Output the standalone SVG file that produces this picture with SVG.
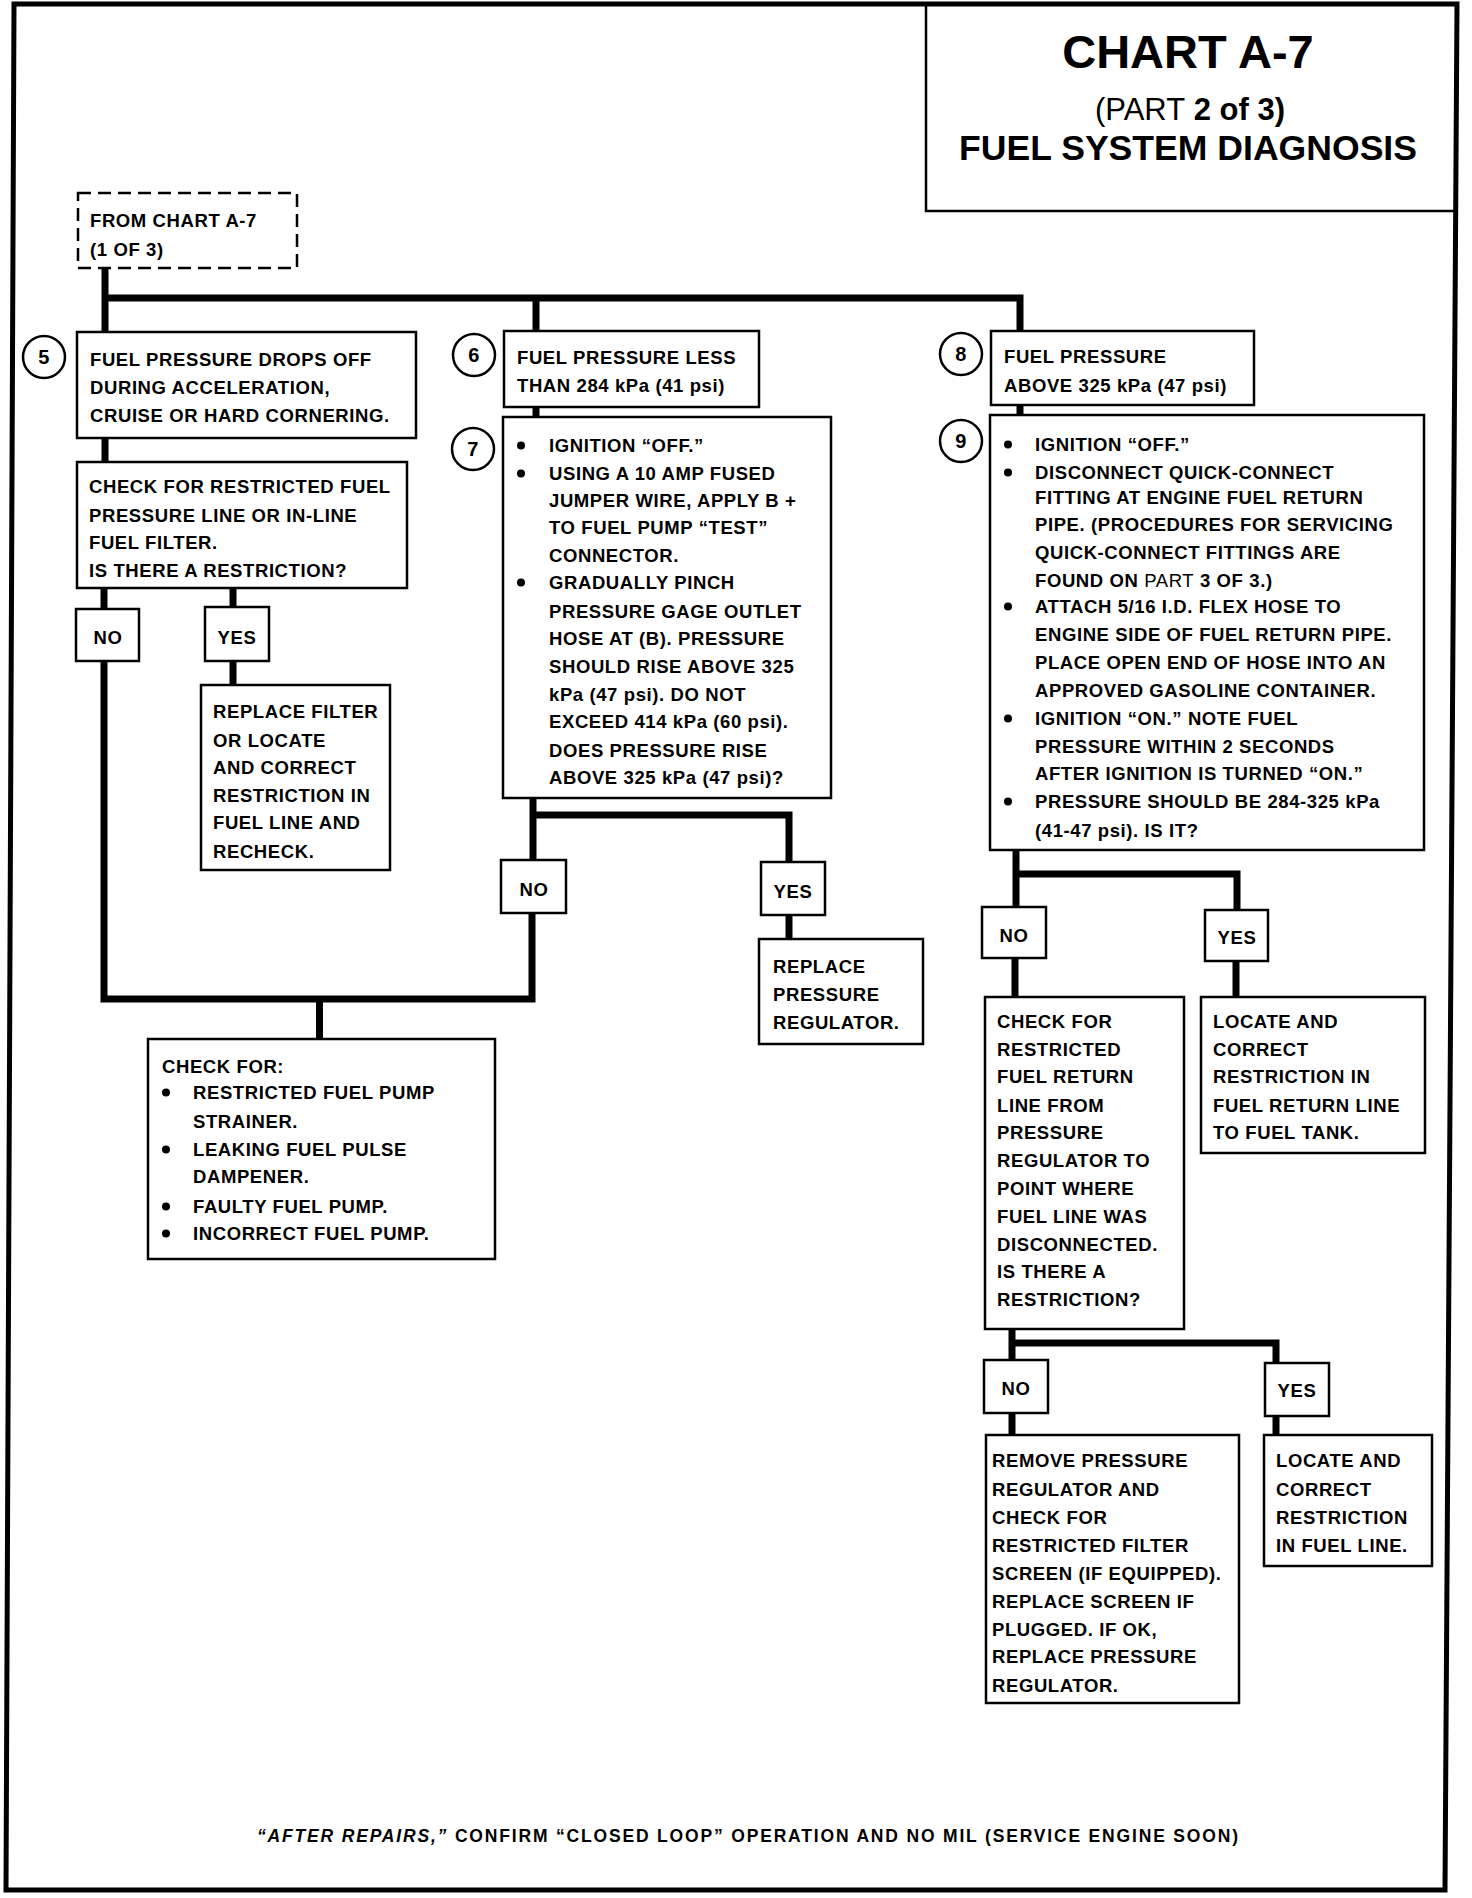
<svg xmlns="http://www.w3.org/2000/svg" width="1472" height="1898" viewBox="0 0 1472 1898" xml:space="preserve">
<style>
.b{fill:#fff;stroke:#000;stroke-width:2.5}
.d{fill:#fff;stroke:#000;stroke-width:2.5;stroke-dasharray:13 7}
.o{fill:none;stroke:#000;stroke-width:5;stroke-linejoin:miter}
.tb{fill:none;stroke:#000;stroke-width:2.5}
.c{fill:none;stroke:#000;stroke-width:7;stroke-linejoin:miter;stroke-linecap:butt}
.t{font-family:"Liberation Sans",Arial,sans-serif;font-weight:bold;font-size:18.5px;letter-spacing:0.6px;fill:#000}
.m{text-anchor:middle}
.k{font-size:20px}
.n{font-weight:normal}
.h1{font-family:"Liberation Sans",Arial,sans-serif;font-weight:bold;font-size:47px;text-anchor:middle}
.h2{font-family:"Liberation Sans",Arial,sans-serif;font-weight:bold;font-size:31px;text-anchor:middle}
.h3{font-family:"Liberation Sans",Arial,sans-serif;font-weight:bold;font-size:35.6px;text-anchor:middle}
.f{font-family:"Liberation Sans",Arial,sans-serif;font-weight:bold;font-size:17.5px;fill:#000}
</style>
<rect width="1472" height="1898" fill="#fff"/>
<path class="o" d="M14,4 L1457,4 L1445,1890 L6,1890 Z"/>
<g id="title">
<path class="tb" d="M926,4 V211 H1456"/>
<text class="h1" x="1188" y="68">CHART A-7</text>
<text class="h2" x="1190" y="120"><tspan class="n">(PART</tspan> 2 of 3)</text>
<text class="h3" x="1188" y="160">FUEL SYSTEM DIAGNOSIS</text>
</g>
<g id="connectors">
<path class="c" d="M105,268 V332"/>
<path class="c" d="M105,298 H1020 V331"/>
<path class="c" d="M536,298 V331"/>
<path class="c" d="M536,407 V417"/>
<path class="c" d="M1020,405 V415"/>
<path class="c" d="M105,438 V462"/>
<path class="c" d="M104,588 V609"/>
<path class="c" d="M233,588 V607"/>
<path class="c" d="M233,661 V685"/>
<path class="c" d="M104,661 V999 H532 V913"/>
<path class="c" d="M319.5,999 V1039"/>
<path class="c" d="M533,798 V860"/>
<path class="c" d="M533,815 H789 V862"/>
<path class="c" d="M789,915 V939"/>
<path class="c" d="M1016,850 V907"/>
<path class="c" d="M1016,874 H1237 V910"/>
<path class="c" d="M1015,958 V997"/>
<path class="c" d="M1236,961 V997"/>
<path class="c" d="M1012,1329 V1360"/>
<path class="c" d="M1012,1343 H1276 V1363"/>
<path class="c" d="M1012,1413 V1435"/>
<path class="c" d="M1276,1416 V1435"/>
</g>
<g id="from">
<rect class="d" x="78" y="193" width="219" height="75"/>
<text class="t" x="90" y="227">FROM CHART A-7</text>
<text class="t" x="90" y="256">(1 OF 3)</text>
</g>
<g id="c5"><circle class="b" cx="44" cy="357" r="21"/><text class="t m k" x="44" y="364">5</text></g>
<g id="c6"><circle class="b" cx="474" cy="355" r="21"/><text class="t m k" x="474" y="362">6</text></g>
<g id="c7"><circle class="b" cx="473" cy="449" r="21"/><text class="t m k" x="473" y="456">7</text></g>
<g id="c8"><circle class="b" cx="961" cy="354" r="21"/><text class="t m k" x="961" y="361">8</text></g>
<g id="c9"><circle class="b" cx="961" cy="441" r="21"/><text class="t m k" x="961" y="448">9</text></g>
<g id="box5">
<rect class="b" x="77" y="332" width="339" height="106"/>
<text class="t" x="90" y="366">FUEL PRESSURE DROPS OFF</text>
<text class="t" x="90" y="394">DURING ACCELERATION,</text>
<text class="t" x="90" y="422">CRUISE OR HARD CORNERING.</text>
</g>
<g id="check1">
<rect class="b" x="77" y="462" width="330" height="126"/>
<text class="t" x="89" y="493">CHECK FOR RESTRICTED FUEL</text>
<text class="t" x="89" y="522">PRESSURE LINE OR IN-LINE</text>
<text class="t" x="89" y="549">FUEL FILTER.</text>
<text class="t" x="89" y="577">IS THERE A RESTRICTION?</text>
</g>
<g id="no1"><rect class="b" x="76" y="609" width="63" height="52"/><text class="t m" x="108" y="644">NO</text></g>
<g id="yes1"><rect class="b" x="205" y="607" width="64" height="54"/><text class="t m" x="237" y="644">YES</text></g>
<g id="replacefilter">
<rect class="b" x="201" y="685" width="189" height="185"/>
<text class="t" x="213" y="718">REPLACE FILTER</text>
<text class="t" x="213" y="747">OR LOCATE</text>
<text class="t" x="213" y="774">AND CORRECT</text>
<text class="t" x="213" y="802">RESTRICTION IN</text>
<text class="t" x="213" y="829">FUEL LINE AND</text>
<text class="t" x="213" y="858">RECHECK.</text>
</g>
<g id="box6">
<rect class="b" x="504" y="331" width="255" height="76"/>
<text class="t" x="517" y="364">FUEL PRESSURE LESS</text>
<text class="t" x="517" y="392">THAN 284 kPa (41 psi)</text>
</g>
<g id="box7">
<rect class="b" x="503" y="417" width="328" height="381"/>
<circle cx="521" cy="445.5" r="4"/>
<circle cx="521" cy="473.5" r="4"/>
<circle cx="521" cy="582.5" r="4"/>
<text class="t" x="549" y="452">IGNITION “OFF.”</text>
<text class="t" x="549" y="480">USING A 10 AMP FUSED</text>
<text class="t" x="549" y="507">JUMPER WIRE, APPLY B +</text>
<text class="t" x="549" y="534">TO FUEL PUMP “TEST”</text>
<text class="t" x="549" y="562">CONNECTOR.</text>
<text class="t" x="549" y="589">GRADUALLY PINCH</text>
<text class="t" x="549" y="618">PRESSURE GAGE OUTLET</text>
<text class="t" x="549" y="645">HOSE AT (B).  PRESSURE</text>
<text class="t" x="549" y="673">SHOULD RISE ABOVE 325</text>
<text class="t" x="549" y="701">kPa (47 psi).  DO NOT</text>
<text class="t" x="549" y="728">EXCEED 414 kPa (60 psi).</text>
<text class="t" x="549" y="757">DOES PRESSURE RISE</text>
<text class="t" x="549" y="784">ABOVE 325 kPa (47 psi)?</text>
</g>
<g id="no7"><rect class="b" x="501" y="860" width="65" height="53"/><text class="t m" x="534" y="896">NO</text></g>
<g id="yes7"><rect class="b" x="761" y="862" width="64" height="53"/><text class="t m" x="793" y="898">YES</text></g>
<g id="replacereg">
<rect class="b" x="759" y="939" width="164" height="105"/>
<text class="t" x="773" y="973">REPLACE</text>
<text class="t" x="773" y="1001">PRESSURE</text>
<text class="t" x="773" y="1029">REGULATOR.</text>
</g>
<g id="checkfor">
<rect class="b" x="148" y="1039" width="347" height="220"/>
<text class="t" x="162" y="1073">CHECK FOR:</text>
<circle cx="166" cy="1092.5" r="4"/>
<circle cx="166" cy="1149.5" r="4"/>
<circle cx="166" cy="1206.5" r="4"/>
<circle cx="166" cy="1233.5" r="4"/>
<text class="t" x="193" y="1099">RESTRICTED FUEL PUMP</text>
<text class="t" x="193" y="1128">STRAINER.</text>
<text class="t" x="193" y="1156">LEAKING FUEL PULSE</text>
<text class="t" x="193" y="1183">DAMPENER.</text>
<text class="t" x="193" y="1213">FAULTY FUEL PUMP.</text>
<text class="t" x="193" y="1240">INCORRECT FUEL PUMP.</text>
</g>
<g id="box8">
<rect class="b" x="991" y="331" width="263" height="74"/>
<text class="t" x="1004" y="363">FUEL PRESSURE</text>
<text class="t" x="1004" y="392">ABOVE 325 kPa (47 psi)</text>
</g>
<g id="box9">
<rect class="b" x="990" y="415" width="434" height="435"/>
<circle cx="1008" cy="444.5" r="4"/>
<circle cx="1008" cy="472.5" r="4"/>
<circle cx="1008" cy="606.5" r="4"/>
<circle cx="1008" cy="718.5" r="4"/>
<circle cx="1008" cy="801.5" r="4"/>
<text class="t" x="1035" y="451">IGNITION “OFF.”</text>
<text class="t" x="1035" y="479">DISCONNECT QUICK-CONNECT</text>
<text class="t" x="1035" y="504">FITTING AT ENGINE FUEL RETURN</text>
<text class="t" x="1035" y="531">PIPE.  (PROCEDURES FOR SERVICING</text>
<text class="t" x="1035" y="559">QUICK-CONNECT FITTINGS ARE</text>
<text class="t" x="1035" y="587">FOUND ON <tspan class="n">PART</tspan>  3 OF 3.)</text>
<text class="t" x="1035" y="613">ATTACH 5/16 I.D. FLEX HOSE TO</text>
<text class="t" x="1035" y="641">ENGINE SIDE OF FUEL RETURN PIPE.</text>
<text class="t" x="1035" y="669">PLACE OPEN END OF HOSE INTO AN</text>
<text class="t" x="1035" y="697">APPROVED GASOLINE CONTAINER.</text>
<text class="t" x="1035" y="725">IGNITION “ON.”  NOTE FUEL</text>
<text class="t" x="1035" y="753">PRESSURE WITHIN 2 SECONDS</text>
<text class="t" x="1035" y="780">AFTER IGNITION IS TURNED “ON.”</text>
<text class="t" x="1035" y="808">PRESSURE SHOULD BE 284-325 kPa</text>
<text class="t" x="1035" y="837">(41-47 psi).  IS IT?</text>
</g>
<g id="no9"><rect class="b" x="982" y="907" width="64" height="51"/><text class="t m" x="1014" y="942">NO</text></g>
<g id="yes9"><rect class="b" x="1205" y="910" width="63" height="51"/><text class="t m" x="1237" y="944">YES</text></g>
<g id="checkreturn">
<rect class="b" x="985" y="997" width="199" height="332"/>
<text class="t" x="997" y="1028">CHECK FOR</text>
<text class="t" x="997" y="1056">RESTRICTED</text>
<text class="t" x="997" y="1083">FUEL RETURN</text>
<text class="t" x="997" y="1112">LINE FROM</text>
<text class="t" x="997" y="1139">PRESSURE</text>
<text class="t" x="997" y="1167">REGULATOR TO</text>
<text class="t" x="997" y="1195">POINT WHERE</text>
<text class="t" x="997" y="1223">FUEL LINE WAS</text>
<text class="t" x="997" y="1251">DISCONNECTED.</text>
<text class="t" x="997" y="1278">IS THERE A</text>
<text class="t" x="997" y="1306">RESTRICTION?</text>
</g>
<g id="locate1">
<rect class="b" x="1201" y="997" width="224" height="156"/>
<text class="t" x="1213" y="1028">LOCATE AND</text>
<text class="t" x="1213" y="1056">CORRECT</text>
<text class="t" x="1213" y="1083">RESTRICTION IN</text>
<text class="t" x="1213" y="1112">FUEL RETURN LINE</text>
<text class="t" x="1213" y="1139">TO FUEL TANK.</text>
</g>
<g id="no10"><rect class="b" x="984" y="1360" width="64" height="53"/><text class="t m" x="1016" y="1395">NO</text></g>
<g id="yes10"><rect class="b" x="1265" y="1363" width="64" height="53"/><text class="t m" x="1297" y="1397">YES</text></g>
<g id="remove">
<rect class="b" x="986" y="1435" width="253" height="268"/>
<text class="t" x="992" y="1467">REMOVE PRESSURE</text>
<text class="t" x="992" y="1496">REGULATOR AND</text>
<text class="t" x="992" y="1524">CHECK FOR</text>
<text class="t" x="992" y="1552">RESTRICTED FILTER</text>
<text class="t" x="992" y="1580">SCREEN (IF EQUIPPED).</text>
<text class="t" x="992" y="1608">REPLACE SCREEN IF</text>
<text class="t" x="992" y="1636">PLUGGED.  IF OK,</text>
<text class="t" x="992" y="1663">REPLACE PRESSURE</text>
<text class="t" x="992" y="1692">REGULATOR.</text>
</g>
<g id="locate2">
<rect class="b" x="1264" y="1435" width="168" height="131"/>
<text class="t" x="1276" y="1467">LOCATE AND</text>
<text class="t" x="1276" y="1496">CORRECT</text>
<text class="t" x="1276" y="1524">RESTRICTION</text>
<text class="t" x="1276" y="1552">IN FUEL LINE.</text>
</g>
<g id="footer">
<text class="f" x="257" y="1842" textLength="981" lengthAdjust="spacing"><tspan font-style="italic">“AFTER REPAIRS,”</tspan> CONFIRM “CLOSED LOOP” OPERATION AND NO MIL (SERVICE ENGINE SOON)</text>
</g>
</svg>
